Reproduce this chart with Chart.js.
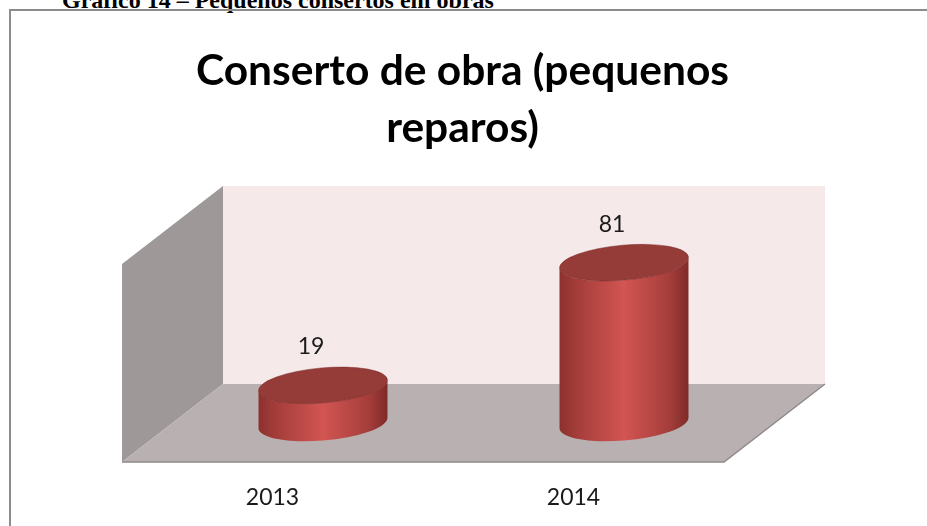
<!DOCTYPE html>
<html>
<head>
<meta charset="utf-8">
<script src="https://cdn.jsdelivr.net/npm/chart.js@4/dist/chart.umd.min.js"></script>
<style>
  html, body { margin: 0; padding: 0; background: #ffffff; overflow: hidden; }
  #wrap { position: relative; width: 927px; height: 526px; overflow: hidden; }
  #caption { position: absolute; left: 62px; top: -12px; font: bold 24px "Liberation Serif", "Times New Roman", serif; line-height: 1; color: #000; white-space: nowrap; }
  #frame { position: absolute; left: 9px; top: 9px; width: 1200px; height: 900px; border: 2px solid #8c8c8c; box-sizing: border-box; }
  #c { position: absolute; left: 0; top: 0; }
</style>
</head>
<body>
<div id="wrap">
  <div id="caption">Gráfico 14 – Pequenos consertos em obras</div>
  <div id="frame"></div>
  <canvas id="c" width="927" height="526"></canvas>
</div>
<script>
// ---- data ----
const categories = ['2013', '2014'];
const values = [19, 81];
const titleLines = ['Conserto de obra (pequenos', 'reparos)'];
const axisMin = 0;
const axisMax = 100;

// ---- 3D decoration plugin ----
const DEPTH_X = 101, DEPTH_Y = -78;   // full depth of the floor
const TILT = -5 * Math.PI / 180;
const RY = 17.5;

function drawCylinder(ctx, cx, topY, baseY, rx, ry, a) {
  const t0 = Math.atan2(-ry * Math.sin(a), rx * Math.cos(a));
  const grad = ctx.createLinearGradient(cx - rx, 0, cx + rx, 0);
  grad.addColorStop(0, '#8c302e');
  grad.addColorStop(0.12, '#a23c39');
  grad.addColorStop(0.5, '#d25552');
  grad.addColorStop(0.85, '#a53e3b');
  grad.addColorStop(1, '#7e2a28');
  ctx.beginPath();
  ctx.ellipse(cx, baseY, rx, ry, a, t0, t0 + Math.PI, false);
  ctx.ellipse(cx, topY, rx, ry, a, t0 + Math.PI, t0, true);
  ctx.closePath();
  ctx.fillStyle = grad;
  ctx.fill();
  ctx.beginPath();
  ctx.ellipse(cx, topY, rx, ry, a, 0, Math.PI * 2);
  ctx.fillStyle = '#953b38';
  ctx.fill();
  ctx.strokeStyle = 'rgba(120,40,38,0.6)';
  ctx.lineWidth = 0.8;
  ctx.stroke();
}

const box3d = {
  id: 'box3d',
  beforeDatasetsDraw(chart) {
    const ctx = chart.ctx;
    const ca = chart.chartArea;
    const y = chart.scales.y;
    const top = y.getPixelForValue(axisMax);
    const L = ca.left, R = ca.right, B = ca.bottom;
    ctx.save();
    // back wall
    ctx.fillStyle = '#f5e9ea';
    ctx.fillRect(L + DEPTH_X, top + DEPTH_Y, R - L, B - top);
    // left wall
    ctx.beginPath();
    ctx.moveTo(L, B);
    ctx.lineTo(L, top);
    ctx.lineTo(L + DEPTH_X, top + DEPTH_Y);
    ctx.lineTo(L + DEPTH_X, B + DEPTH_Y);
    ctx.closePath();
    ctx.fillStyle = '#9e9898';
    ctx.fill();
    // floor
    ctx.beginPath();
    ctx.moveTo(L, B);
    ctx.lineTo(L + DEPTH_X, B + DEPTH_Y);
    ctx.lineTo(R + DEPTH_X, B + DEPTH_Y);
    ctx.lineTo(R, B);
    ctx.closePath();
    ctx.fillStyle = '#b9b1b1';
    ctx.fill();
    ctx.beginPath();
    ctx.moveTo(L, B);
    ctx.lineTo(R, B);
    ctx.lineTo(R + DEPTH_X, B + DEPTH_Y);
    ctx.strokeStyle = '#8f8989';
    ctx.lineWidth = 1.5;
    ctx.stroke();
    ctx.restore();
  },
  afterDatasetsDraw(chart) {
    const ctx = chart.ctx;
    const meta = chart.getDatasetMeta(0);
    const base = chart.scales.y.getPixelForValue(0);
    ctx.save();
    meta.data.forEach((bar, i) => {
      const cx = bar.x + DEPTH_X / 2;
      const topY = bar.y + DEPTH_Y / 2;
      const baseY = base + DEPTH_Y / 2;
      const rx = bar.width / 2;
      drawCylinder(ctx, cx, topY, baseY, rx, RY, TILT);
      ctx.fillStyle = '#1a1a1a';
      ctx.font = '23px Lato';
      ctx.textAlign = 'center';
      ctx.textBaseline = 'middle';
      ctx.fillText(String(values[i]), cx - 12, topY - RY - 21);
    });
    ctx.restore();
  }
};

const hiddenAxis = (w, pos) => ({
  position: pos,
  min: axisMin,
  max: axisMax,
  grid: { display: false, drawTicks: false },
  border: { display: false },
  ticks: { display: false },
  afterFit(scale) { scale.width = w; }
});

new Chart(document.getElementById('c'), {
  type: 'bar',
  data: {
    labels: categories,
    datasets: [{
      data: values,
      yAxisID: 'y',
      backgroundColor: 'rgba(0,0,0,0)',
      borderWidth: 0,
      categoryPercentage: 1,
      barPercentage: 0.43
    }]
  },
  options: {
    responsive: false,
    animation: false,
    events: [],
    layout: { padding: { left: 0, right: 2, top: 0, bottom: 0 } },
    scales: {
      x: {
        grid: { display: false, drawTicks: false },
        border: { display: false },
        ticks: { color: '#1a1a1a', font: { family: 'Lato', size: 23 }, padding: 22 },
        afterFit(scale) { scale.height = 64; }
      },
      y: hiddenAxis(122, 'left'),
      y2: hiddenAxis(201, 'right')
    },
    plugins: {
      legend: { display: false },
      tooltip: { enabled: false },
      title: {
        display: true,
        text: titleLines,
        color: '#000',
        font: { family: 'Lato', size: 42.5, weight: 'bold', lineHeight: 1.345 },
        padding: { top: 43, bottom: 106.7 }
      }
    }
  },
  plugins: [box3d]
});
</script>
</body>
</html>
